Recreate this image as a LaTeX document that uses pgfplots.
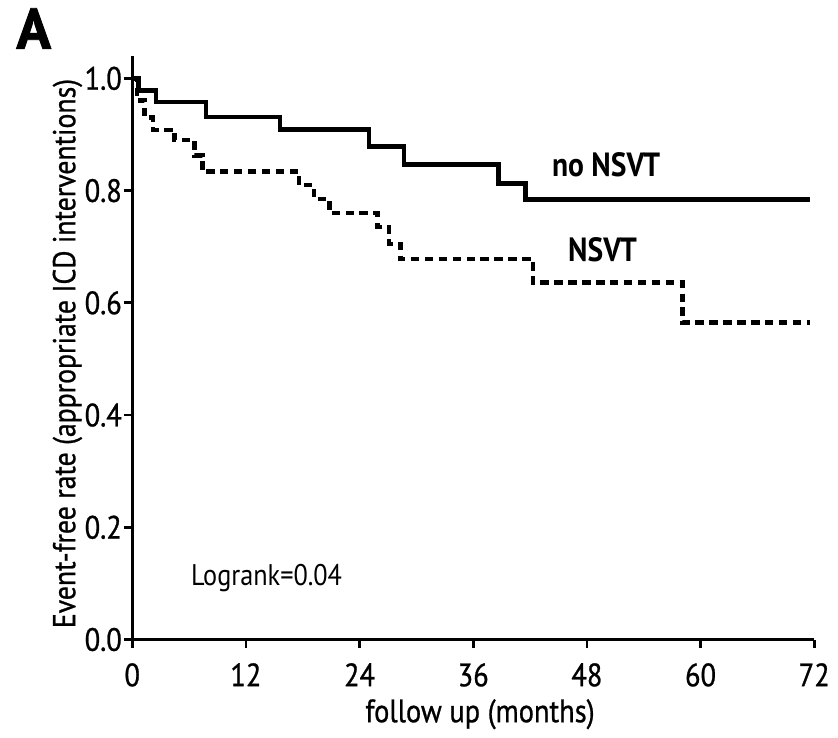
\documentclass[border=0pt]{standalone}
\usepackage{fontspec}
\setmainfont{PT Sans}[FakeStretch=0.88]
\newfontfamily\semib{PT Sans}[FakeStretch=0.88, FakeBold=0.8]
\newfontface\heavyA{PT Sans Bold}[FakeBold=1.5]
\usepackage{pgfplots}
\pgfplotsset{compat=1.18}
\begin{document}
\begin{tikzpicture}
    \begin{axis}[
        name=ax,
        scale only axis,
        width=274.4pt, height=234.8pt,
        xmin=0, xmax=72, ymin=0, ymax=1.04,
        axis lines*=left,
        axis line style={line width=1.2pt},
        xtick={0,12,...,72},
        ytick={0,0.2,...,1.0},
        tick align=outside,
        major tick length=3.5pt,
        tick style={line width=1.1pt, black},
        /pgf/number format/assume math mode=true,
        yticklabel style={/pgf/number format/fixed, /pgf/number format/fixed zerofill, /pgf/number format/precision=1, inner sep=1pt, xshift=0.5pt},
        xticklabel style={yshift=-2.5pt},
        ticklabel style={font=\semib\fontsize{13}{15}\selectfont},
        clip=false,
    ]
        % no NSVT
        \addplot[const plot, black, line width=1.9pt] coordinates {
            (0,1) (0.7,0.979) (2.5,0.958) (7.8,0.931) (15.6,0.909) (25,0.878)
            (28.7,0.846) (38.7,0.813) (41.5,0.784) (71.6,0.784)};
        % NSVT
        \addplot[const plot, black, line width=1.9pt, dash pattern=on 3.4pt off 2.2pt] coordinates {
            (0,1) (0.5,0.96) (1.3,0.93) (2.2,0.908) (4.5,0.89) (6.6,0.862) (7.4,0.834)
            (17.6,0.81) (19.2,0.785) (20.8,0.76) (25.9,0.735) (27.1,0.705) (28.3,0.678)
            (42.3,0.636) (58.1,0.565) (71.6,0.565)};

        % axis labels
        \node[font=\semib\fontsize{13}{15}\selectfont] at (rel axis cs:0.51,-0.128) {follow up (months)};
        \node[rotate=90, font=\semib\fontsize{12.7}{15}\selectfont] at (rel axis cs:-0.095,0.49) {Event-free rate (appropriate ICD interventions)};

        \node[anchor=west, font=\bfseries\fontsize{13.5}{15}\selectfont] at (axis cs:43.4,0.846) {no NSVT};
        \node[anchor=west, font=\bfseries\fontsize{13.5}{15}\selectfont] at (axis cs:45.1,0.695) {NSVT};
        \node[anchor=west, font=\fontsize{12}{14}\selectfont] at (axis cs:5.3,0.11) {Logrank=0.04};
        \node[font=\heavyA\fontsize{23}{26}\selectfont] at (axis cs:-10.4,1.089) {A};
    \end{axis}
    \path ([xshift=-53.2pt,yshift=-31.2pt]ax.south west) rectangle ([xshift=7.6pt,yshift=22pt]ax.north east);
\end{tikzpicture}
\end{document}
